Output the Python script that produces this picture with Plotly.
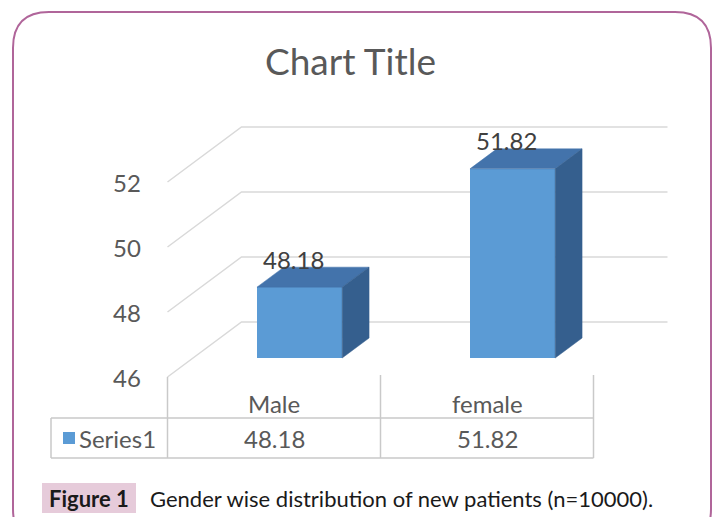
import plotly.graph_objects as go

# ---------------- data ----------------
categories = ["Male", "female"]
values = [48.18, 51.82]
y_ticks = [46, 48, 50, 52]
series_name = "Series1"
chart_title = "Chart Title"
caption_label = "Figure 1"
caption_text = "Gender wise distribution of new patients (n=10000)."

# ---------------- layout constants ----------------
W, H = 716, 517
CAT_PX = 213.0      # pixels per category unit (front plane)
CAT0_PX = 274.0     # pixel x of first category centre (front plane)
VAL_PX = 32.5       # pixels per value unit
BASE_PX = 377.0     # pixel y of the floor value at the front plane
BASE_V = 46.0
DX = 74.0 / CAT_PX  # depth shift in category units (full depth)
DV = 55.0 / VAL_PX  # depth shift in value units (full depth)
D0 = 19.0 / 55.0    # depth of bar front face
DD = 20.0 / 55.0    # bar depth
BW = 0.40           # bar width (category units)

FRONT = "#5B9BD5"
TOP = "#4373AB"
SIDE = "#355F8E"
GRID = "#D9D9D9"
TEXT = "#595959"
FONT = "Lato"
FS = 24


def proj(x, v, d):
    return x + d * DX, v + d * DV


def px_x(px):   # pixel x -> category axis
    return (px - CAT0_PX) / CAT_PX


def px_v(py):   # pixel y -> value axis
    return BASE_V - (py - BASE_PX) / VAL_PX


def pp(px, py):  # pixel -> paper
    return px / W, 1 - py / H


fig = go.Figure()
shapes = []

# back wall / side wall gridlines (below the bars)
for t in y_ticks:
    pts = [proj(-0.5, t, 0), proj(-0.5, t, 1), proj(len(categories) - 0.5, t, 1)]
    path = "M " + " L ".join(f"{a:.5f},{b:.5f}" for a, b in pts)
    shapes.append(dict(type="path", xref="x", yref="y", path=path, layer="below",
                       line=dict(color=GRID, width=1.5)))

# bars: front faces
fig.add_trace(go.Bar(x=[i + D0 * DX for i in range(len(categories))],
                     y=[v - BASE_V for v in values], base=BASE_V + D0 * DV,
                     width=BW, marker=dict(color=FRONT, line=dict(width=0)),
                     hoverinfo="skip", showlegend=False))

# bars: top and side faces
for i, v in enumerate(values):
    xl, xr = i - BW / 2, i + BW / 2
    top = [proj(xl, v, D0), proj(xr, v, D0), proj(xr, v, D0 + DD), proj(xl, v, D0 + DD), proj(xl, v, D0)]
    side = [proj(xr, BASE_V, D0), proj(xr, v, D0), proj(xr, v, D0 + DD), proj(xr, BASE_V, D0 + DD),
            proj(xr, BASE_V, D0)]
    for poly, col in ((top, TOP), (side, SIDE)):
        fig.add_trace(go.Scatter(x=[p[0] for p in poly], y=[p[1] for p in poly], mode="lines",
                                 fill="toself", fillcolor=col, line=dict(color=col, width=0.5),
                                 hoverinfo="skip", showlegend=False))
    lx, ly = proj(i, v, D0 + DD)
    fig.add_annotation(x=i + D0 * DX, y=ly, text=f"{v:.2f}", showarrow=False, xshift=-6,
                       yshift=8, xanchor="center", yanchor="middle",
                       font=dict(family=FONT, size=FS, color="#404040"))

# tick labels
for t in y_ticks:
    fig.add_annotation(x=-0.5, y=t, text=str(t), showarrow=False, xanchor="right", yanchor="middle",
                       xshift=-25, font=dict(family=FONT, size=FS, color=TEXT))

# data table
line_style = dict(color="#C9C9C9", width=1.5)
n = len(categories)
for k in range(n + 1):
    shapes.append(dict(type="line", xref="x", yref="y", x0=k - 0.5, x1=k - 0.5,
                       y0=BASE_V if k == 0 else px_v(375), y1=px_v(458), line=line_style))
for py in (418, 458):
    shapes.append(dict(type="line", xref="x", yref="y", x0=px_x(51), x1=n - 0.5,
                       y0=px_v(py), y1=px_v(py), line=line_style))
shapes.append(dict(type="line", xref="x", yref="y", x0=px_x(51), x1=px_x(51),
                   y0=px_v(418), y1=px_v(458), line=line_style))
shapes.append(dict(type="rect", xref="x", yref="y", x0=px_x(63), x1=px_x(75),
                   y0=px_v(444), y1=px_v(432), fillcolor=FRONT, line=dict(width=0)))
for i, (c, v) in enumerate(zip(categories, values)):
    fig.add_annotation(x=i, y=px_v(403), text=c, showarrow=False, xanchor="center", yanchor="middle",
                       font=dict(family=FONT, size=FS, color=TEXT))
    fig.add_annotation(x=i, y=px_v(438), text=f"{v:.2f}", showarrow=False, xanchor="center",
                       yanchor="middle", font=dict(family=FONT, size=FS, color=TEXT))
fig.add_annotation(x=px_x(77), y=px_v(438), text=series_name, showarrow=False, xanchor="left",
                   yanchor="middle", font=dict(family=FONT, size=FS, color=TEXT))

# title
tx, ty = pp(350, 60)
fig.add_annotation(xref="paper", yref="paper", x=tx, y=ty, text=chart_title, showarrow=False,
                   xanchor="center", yanchor="middle", font=dict(family=FONT, size=37, color=TEXT))

# caption
x0, y0 = pp(42, 483)
x1, y1 = pp(136, 513)
shapes.append(dict(type="rect", xref="paper", yref="paper", x0=x0, x1=x1, y0=y1, y1=y0,
                   fillcolor="#E6CBDA", line=dict(width=0)))
cx, cy = pp(89, 498)
fig.add_annotation(xref="paper", yref="paper", x=cx, y=cy, text=f"<b>{caption_label}</b>",
                   showarrow=False, xanchor="center", yanchor="middle",
                   font=dict(family=FONT, size=22, color="#1a1a1a"))
cx, cy = pp(148, 498)
fig.add_annotation(xref="paper", yref="paper", x=cx, y=cy, text=caption_text, xanchor="left",
                   yanchor="middle", showarrow=False, font=dict(family=FONT, size=22, color="#1a1a1a"))

# rounded frame
L, T, R, B, r = 13, 12, 711, 545, 36


def P(px, py):
    a, b = pp(px, py)
    return f"{a:.5f},{b:.5f}"


path = (f"M {P(L + r, T)} L {P(R - r, T)} Q {P(R, T)} {P(R, T + r)} L {P(R, B - r)} "
        f"Q {P(R, B)} {P(R - r, B)} L {P(L + r, B)} Q {P(L, B)} {P(L, B - r)} L {P(L, T + r)} "
        f"Q {P(L, T)} {P(L + r, T)} Z")
shapes.append(dict(type="path", xref="paper", yref="paper", path=path,
                   line=dict(color="#B0659A", width=2)))

fig.update_layout(
    width=W, height=H, margin=dict(l=0, r=0, t=0, b=0),
    paper_bgcolor="white", plot_bgcolor="white", shapes=shapes, bargap=0,
    xaxis=dict(range=[px_x(0), px_x(W)], visible=False, fixedrange=True),
    yaxis=dict(range=[px_v(H), px_v(0)], visible=False, fixedrange=True),
)

fig.write_html("out.html", config={"displayModeBar": False},
               post_script="document.body.style.margin='0';document.body.style.overflow='hidden';")
